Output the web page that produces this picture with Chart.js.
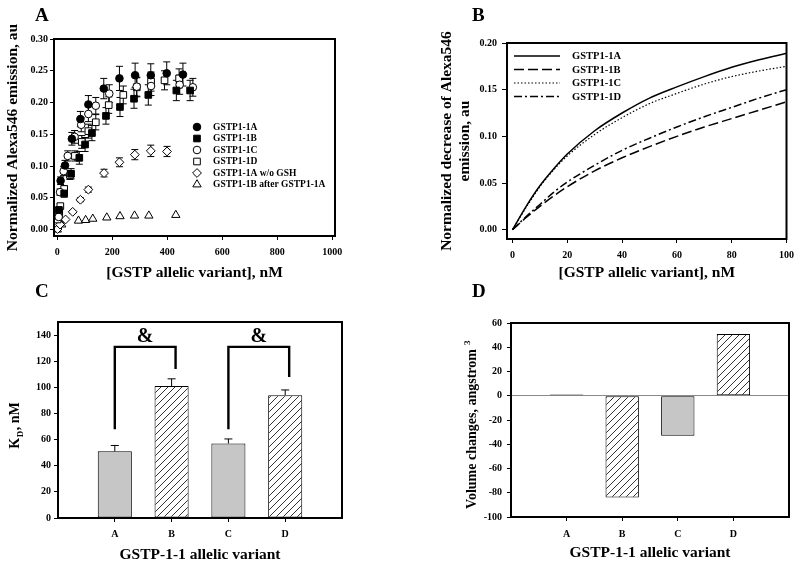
<!DOCTYPE html>
<html>
<head>
<meta charset="utf-8">
<script src="https://cdn.jsdelivr.net/npm/chart.js@4.4.0/dist/chart.umd.min.js"></script>
<style>
  html, body { margin: 0; padding: 0; background: #fff; }
  #wrap { position: relative; width: 800px; height: 565px; overflow: hidden; }
  canvas { position: absolute; }
</style>
</head>
<body>
<div id="wrap">
  <canvas id="chartA" width="400" height="282" style="left:0;top:0"></canvas>
  <canvas id="chartB" width="400" height="282" style="left:400px;top:0"></canvas>
  <canvas id="chartC" width="400" height="283" style="left:0;top:282px"></canvas>
  <canvas id="chartD" width="400" height="283" style="left:400px;top:282px"></canvas>
</div>
<script>
// ---- Panel A: titration points (nM, au, error) ----
const a1A_x = [12, 28, 53, 84, 113, 169, 226, 283, 340, 398, 457];
const a1A_y = [0.077, 0.101, 0.143, 0.174, 0.197, 0.222, 0.238, 0.243, 0.243, 0.246, 0.244];
const a1A_e = [0.006, 0.008, 0.010, 0.012, 0.014, 0.016, 0.019, 0.019, 0.018, 0.018, 0.018];

const a1B_x = [6, 25, 50, 80, 101, 126, 177, 228, 279, 331, 433, 483];
const a1B_y = [0.031, 0.057, 0.088, 0.113, 0.134, 0.152, 0.179, 0.193, 0.206, 0.212, 0.219, 0.219];
const a1B_e = [0.004, 0.006, 0.008, 0.010, 0.011, 0.012, 0.013, 0.015, 0.015, 0.016, 0.016, 0.016];

const a1C_x = [5, 10, 23, 38, 63, 87, 113, 140, 189, 289, 341, 445, 493];
const a1C_y = [0.020, 0.059, 0.092, 0.116, 0.146, 0.165, 0.182, 0.195, 0.214, 0.225, 0.226, 0.228, 0.224];
const a1C_e = [0.003, 0.005, 0.007, 0.008, 0.010, 0.011, 0.012, 0.013, 0.014, 0.015, 0.015, 0.015, 0.014];

const a1D_x = [1, 7, 11, 25, 46, 64, 89, 113, 140, 187, 240, 289, 341, 390, 443];
const a1D_y = [0.016, 0.026, 0.037, 0.064, 0.086, 0.116, 0.138, 0.155, 0.169, 0.196, 0.212, 0.224, 0.233, 0.235, 0.238];
const a1D_e = [0.002, 0.003, 0.004, 0.005, 0.007, 0.008, 0.010, 0.011, 0.012, 0.013, 0.014, 0.015, 0.015, 0.015, 0.015];

const aNoGSH_x = [1, 10, 30, 56, 84, 113, 170, 226, 282, 340, 399];
const aNoGSH_y = [0.001, 0.008, 0.016, 0.028, 0.047, 0.063, 0.089, 0.106, 0.118, 0.124, 0.123];
const aNoGSH_e = [0, 0, 0, 0.002, 0.003, 0.004, 0.006, 0.007, 0.008, 0.009, 0.008];

const aAfter_x = [0, 16, 77, 103, 129, 180, 228, 281, 333, 431];
const aAfter_y = [0.000, 0.008, 0.014, 0.015, 0.017, 0.019, 0.021, 0.022, 0.022, 0.023];

const ticksAx = [0, 200, 400, 600, 800, 1000];
const ticksAy = [0, 0.05, 0.10, 0.15, 0.20, 0.25, 0.30];

// ---- Panel B: fitted binding curves ----
const bX   = [0, 5, 10, 15, 20, 30, 40, 50, 60, 70, 80, 90, 100];
const b1A  = [0, 0.025, 0.047, 0.065, 0.081, 0.106, 0.125, 0.141, 0.153, 0.164, 0.174, 0.182, 0.189];
const b1B  = [0, 0.013, 0.025, 0.036, 0.046, 0.063, 0.077, 0.089, 0.100, 0.110, 0.119, 0.128, 0.137];
const b1C  = [0, 0.024, 0.046, 0.064, 0.079, 0.102, 0.120, 0.135, 0.146, 0.156, 0.164, 0.170, 0.175];
const b1D  = [0, 0.014, 0.027, 0.040, 0.051, 0.069, 0.085, 0.098, 0.110, 0.121, 0.131, 0.141, 0.150];
const ticksBx = [0, 20, 40, 60, 80, 100];
const ticksBy = [0, 0.05, 0.10, 0.15, 0.20];

// ---- Panel C: KD per variant ----
const variants = ['A', 'B', 'C', 'D'];
const kd = [51, 101, 57, 94];
const kdErr = [4.5, 5.5, 3.5, 4];
const ticksCy = [0, 20, 40, 60, 80, 100, 120, 140];
const bracketPairs = [['A', 'B'], ['C', 'D']];
const bracketLegs = [[68, 114], [68, 108]];
const bracketTop = 131;
const bracketMark = '&';

// ---- Panel D: volume changes ----
const volume = [1, -84, -33, 51];
const ticksDy = [-100, -80, -60, -40, -20, 0, 20, 40, 60];

const serif = '"Liberation Serif", "Times New Roman", serif';
Chart.defaults.font.family = serif;
Chart.defaults.font.weight = 'bold';
Chart.defaults.font.size = 10;
Chart.defaults.color = '#000';
Chart.defaults.animation = false;

const GREY = '#c6c6c6';
const TITLE_FONT = { size: 15.5 };

function hatchPattern() {
    const c = document.createElement('canvas');
    c.width = 7; c.height = 7;
    const g = c.getContext('2d');
    g.fillStyle = '#fff';
    g.fillRect(0, 0, 7, 7);
    g.strokeStyle = '#000';
    g.lineWidth = 0.8;
    g.beginPath();
    g.moveTo(0, 7); g.lineTo(7, 0);
    g.moveTo(-1, 1); g.lineTo(1, -1);
    g.moveTo(6, 8); g.lineTo(8, 6);
    g.stroke();
    return g.createPattern(c, 'repeat');
}
const HATCH = hatchPattern();

function fixedTicks(values) {
    return scale => { scale.ticks = values.map(v => ({ value: v })); };
}
function pts(xs, ys) {
    return xs.map((x, i) => ({ x: x, y: ys[i] }));
}
function tickGrid(len) {
    return { drawOnChartArea: false, drawTicks: true, tickLength: len, tickColor: '#000', tickWidth: 1 };
}

// full box round the plot area + panel letter
const frame = {
    id: 'frame',
    afterDraw(chart, args, opts) {
        const { ctx, chartArea: a } = chart;
        ctx.save();
        ctx.strokeStyle = '#000';
        ctx.lineWidth = 2;
        ctx.strokeRect(a.left, a.top, a.right - a.left, a.bottom - a.top);
        ctx.font = 'bold 19px ' + serif;
        ctx.fillStyle = '#000';
        ctx.textBaseline = 'alphabetic';
        ctx.fillText(opts.letter, opts.x, opts.y);
        ctx.restore();
    }
};

// vertical error bars for scatter points
const errorBars = {
    id: 'errorBars',
    beforeDatasetsDraw(chart) {
        const { ctx, scales: { x, y } } = chart;
        ctx.save();
        ctx.strokeStyle = '#000';
        ctx.lineWidth = 1;
        chart.data.datasets.forEach(ds => {
            if (!ds.errors) return;
            ds.data.forEach((p, i) => {
                const e = ds.errors[i];
                if (!e) return;
                const px = x.getPixelForValue(p.x);
                const top = y.getPixelForValue(p.y + e);
                const bot = y.getPixelForValue(p.y - e);
                ctx.beginPath();
                ctx.moveTo(px, top); ctx.lineTo(px, bot);
                ctx.moveTo(px - 3.5, top); ctx.lineTo(px + 3.5, top);
                ctx.moveTo(px - 3.5, bot); ctx.lineTo(px + 3.5, bot);
                ctx.stroke();
            });
        });
        ctx.restore();
    }
};

const legendA = {
    id: 'legendA',
    afterDatasetsDraw(chart, args, opts) {
        const { ctx } = chart;
        ctx.save();
        ctx.font = 'bold 9.5px ' + serif;
        ctx.textBaseline = 'middle';
        chart.data.datasets.forEach((ds, i) => {
            const yy = opts.y + i * opts.gap;
            ctx.fillStyle = ds.backgroundColor;
            ctx.strokeStyle = ds.borderColor;
            ctx.lineWidth = ds.borderWidth;
            Chart.helpers.drawPoint(ctx, { pointStyle: ds.pointStyle, radius: ds.pointRadius, borderWidth: ds.borderWidth, rotation: 0 }, opts.x, yy);
            ctx.fillStyle = '#000';
            ctx.fillText(ds.label, opts.x + 16, yy + 0.5);
        });
        ctx.restore();
    }
};

const legendB = {
    id: 'legendB',
    afterDatasetsDraw(chart, args, opts) {
        const { ctx } = chart;
        ctx.save();
        ctx.font = 'bold 10.5px ' + serif;
        ctx.textBaseline = 'middle';
        chart.data.datasets.forEach((ds, i) => {
            const yy = opts.y + i * opts.gap;
            ctx.strokeStyle = '#000';
            ctx.lineWidth = ds.borderWidth;
            ctx.setLineDash(ds.borderDash || []);
            ctx.beginPath();
            ctx.moveTo(opts.x, yy); ctx.lineTo(opts.x + 46, yy);
            ctx.stroke();
            ctx.setLineDash([]);
            ctx.fillStyle = '#000';
            ctx.fillText(ds.label, opts.x + 58, yy + 0.5);
        });
        ctx.restore();
    }
};

// bar error bars (upper half) for panel C
const barErrors = {
    id: 'barErrors',
    afterDatasetsDraw(chart) {
        const { ctx, scales: { x, y } } = chart;
        ctx.save();
        ctx.strokeStyle = '#000';
        ctx.lineWidth = 1;
        variants.forEach((v, i) => {
            const px = x.getPixelForValue(i + 1);
            const top = y.getPixelForValue(kd[i] + kdErr[i]);
            const base = y.getPixelForValue(kd[i]);
            ctx.beginPath();
            ctx.moveTo(px, base); ctx.lineTo(px, top);
            ctx.moveTo(px - 4, top); ctx.lineTo(px + 4, top);
            ctx.stroke();
        });
        ctx.restore();
    }
};

const brackets = {
    id: 'brackets',
    afterDatasetsDraw(chart) {
        const { ctx, scales: { x, y } } = chart;
        ctx.save();
        ctx.strokeStyle = '#000';
        ctx.lineWidth = 2.4;
        ctx.lineJoin = 'miter';
        ctx.fillStyle = '#000';
        ctx.font = 'bold 20px ' + serif;
        ctx.textAlign = 'center';
        ctx.textBaseline = 'middle';
        bracketPairs.forEach((pair, i) => {
            const x1 = x.getPixelForValue(variants.indexOf(pair[0]) + 1);
            const x2 = x.getPixelForValue(variants.indexOf(pair[1]) + 1.07);
            const yt = y.getPixelForValue(bracketTop);
            ctx.beginPath();
            ctx.moveTo(x1, y.getPixelForValue(bracketLegs[i][0]));
            ctx.lineTo(x1, yt);
            ctx.lineTo(x2, yt);
            ctx.lineTo(x2, y.getPixelForValue(bracketLegs[i][1]));
            ctx.stroke();
            ctx.fillText(bracketMark, (x1 + x2) / 2, y.getPixelForValue(bracketTop + 8));
        });
        ctx.restore();
    }
};

// rotated y title with sub/superscript part
const richYTitle = {
    id: 'richYTitle',
    afterDraw(chart, args, opts) {
        const { ctx, chartArea: a } = chart;
        ctx.save();
        ctx.translate(opts.x, (a.top + a.bottom) / 2 + (opts.dy || 0));
        ctx.rotate(-Math.PI / 2);
        ctx.fillStyle = '#000';
        ctx.textBaseline = 'alphabetic';
        const big = 'bold 14px ' + serif, small = 'bold 9px ' + serif;
        ctx.font = big;
        const w1 = ctx.measureText(opts.main).width;
        const w3 = ctx.measureText(opts.tail).width;
        ctx.font = small;
        const w2 = ctx.measureText(opts.script).width;
        let sx = -(w1 + w2 + w3) / 2;
        const base = 5;
        ctx.font = big;
        ctx.fillText(opts.main, sx, base);
        ctx.font = small;
        ctx.fillText(opts.script, sx + w1 + 0.5, base + opts.shift);
        ctx.font = big;
        ctx.fillText(opts.tail, sx + w1 + w2 + 1, base);
        ctx.restore();
    }
};

// ---- Chart A ----
new Chart(document.getElementById('chartA'), {
    type: 'scatter',
    data: {
        datasets: [
            { label: 'GSTP1-1A', data: pts(a1A_x, a1A_y), errors: a1A_e, pointStyle: 'circle', pointRadius: 3.8, backgroundColor: '#000', borderColor: '#000', borderWidth: 1 },
            { label: 'GSTP1-1B', data: pts(a1B_x, a1B_y), errors: a1B_e, pointStyle: 'rect', pointRadius: 4.7, backgroundColor: '#000', borderColor: '#000', borderWidth: 1 },
            { label: 'GSTP1-1C', data: pts(a1C_x, a1C_y), errors: a1C_e, pointStyle: 'circle', pointRadius: 3.8, backgroundColor: '#fff', borderColor: '#000', borderWidth: 1 },
            { label: 'GSTP1-1D', data: pts(a1D_x, a1D_y), errors: a1D_e, pointStyle: 'rect', pointRadius: 4.7, backgroundColor: '#fff', borderColor: '#000', borderWidth: 1 },
            { label: 'GSTP1-1A w/o GSH', data: pts(aNoGSH_x, aNoGSH_y), errors: aNoGSH_e, pointStyle: 'rectRot', pointRadius: 4.4, backgroundColor: '#fff', borderColor: '#000', borderWidth: 1 },
            { label: 'GSTP1-1B after GSTP1-1A', data: pts(aAfter_x, aAfter_y), pointStyle: 'triangle', pointRadius: 4.8, backgroundColor: '#fff', borderColor: '#000', borderWidth: 1 }
        ]
    },
    options: {
        responsive: false,
        layout: { padding: { left: 0, top: 39, right: 65, bottom: 0 } },
        plugins: {
            legend: { display: false },
            tooltip: { enabled: false },
            frame: { letter: 'A', x: 35, y: 21 },
            legendA: { x: 197, y: 127, gap: 11.5 }
        },
        scales: {
            x: {
                type: 'linear', min: -12, max: 1010,
                afterBuildTicks: fixedTicks(ticksAx),
                afterFit: s => { s.height = 46; },
                ticks: { padding: 6, maxRotation: 0, autoSkip: false, callback: v => String(v) },
                grid: tickGrid(4),
                border: { display: false },
                title: { display: true, text: '[GSTP allelic variant], nM', font: TITLE_FONT, padding: { top: 0, bottom: 0 } }
            },
            y: {
                min: -0.01, max: 0.30,
                afterBuildTicks: fixedTicks(ticksAy),
                afterFit: s => { s.width = 54; },
                ticks: { padding: 2, callback: v => v.toFixed(2) },
                grid: tickGrid(4),
                border: { display: false },
                title: { display: true, text: 'Normalized Alexa546 emission, au', font: TITLE_FONT, padding: { top: 4, bottom: 0 } }
            }
        }
    },
    plugins: [frame, errorBars, legendA]
});

// ---- Chart B ----
new Chart(document.getElementById('chartB'), {
    type: 'line',
    data: {
        datasets: [
            { label: 'GSTP1-1A', data: pts(bX, b1A), borderColor: '#000', borderWidth: 1.5, borderDash: [] },
            { label: 'GSTP1-1B', data: pts(bX, b1B), borderColor: '#000', borderWidth: 1.5, borderDash: [10, 4] },
            { label: 'GSTP1-1C', data: pts(bX, b1C), borderColor: '#000', borderWidth: 1.2, borderDash: [1.5, 2] },
            { label: 'GSTP1-1D', data: pts(bX, b1D), borderColor: '#000', borderWidth: 1.5, borderDash: [8, 3, 2, 3] }
        ]
    },
    options: {
        responsive: false,
        layout: { padding: { left: 0, top: 43, right: 13, bottom: 0 } },
        elements: { point: { radius: 0 }, line: { cubicInterpolationMode: 'monotone', fill: false } },
        plugins: {
            legend: { display: false },
            tooltip: { enabled: false },
            frame: { letter: 'B', x: 72, y: 21 },
            legendB: { x: 114, y: 56, gap: 13.5 }
        },
        scales: {
            x: {
                type: 'linear', min: -2, max: 100,
                afterBuildTicks: fixedTicks(ticksBx),
                afterFit: s => { s.height = 43; },
                ticks: { padding: 6, maxRotation: 0, autoSkip: false },
                grid: tickGrid(4),
                border: { display: false },
                title: { display: true, text: '[GSTP allelic variant], nM', font: TITLE_FONT, padding: { top: 0, bottom: 0 } }
            },
            y: {
                min: -0.01, max: 0.20,
                afterBuildTicks: fixedTicks(ticksBy),
                afterFit: s => { s.width = 107; },
                ticks: { padding: 5, callback: v => v.toFixed(2) },
                grid: tickGrid(5),
                border: { display: false },
                title: { display: true, text: ['Normalized decrease of Alexa546', 'emission, au'], font: { size: 15.5, lineHeight: 1.17 }, padding: { top: 38, bottom: 0 } }
            }
        }
    },
    plugins: [frame, legendB]
});

// ---- Chart C ----
const catLabels = [''].concat(variants, ['']);
const catTickColor = c => (c.tick && c.tick.label === '') ? 'rgba(0,0,0,0)' : '#000';

new Chart(document.getElementById('chartC'), {
    type: 'bar',
    data: {
        labels: catLabels,
        datasets: [{
            data: [null].concat(kd, [null]),
            backgroundColor: [null, GREY, HATCH, GREY, HATCH, null],
            borderColor: '#000',
            borderWidth: 1,
            borderSkipped: false,
            barPercentage: 0.6,
            categoryPercentage: 1
        }]
    },
    options: {
        responsive: false,
        layout: { padding: { left: 0, top: 40, right: 58, bottom: 0 } },
        plugins: {
            legend: { display: false },
            tooltip: { enabled: false },
            frame: { letter: 'C', x: 35, y: 15 },
            richYTitle: { x: 14, dy: 6, main: 'K', script: 'D', shift: 4, tail: ', nM' }
        },
        scales: {
            x: {
                offset: false,
                afterFit: s => { s.height = 47; },
                ticks: { padding: 6, maxRotation: 0, autoSkip: false },
                grid: { offset: false, drawOnChartArea: false, drawTicks: true, tickLength: 4, tickColor: catTickColor },
                border: { display: false },
                title: { display: true, text: 'GSTP-1-1 allelic variant', font: TITLE_FONT, padding: { top: 0, bottom: 1 } }
            },
            y: {
                min: 0, max: 150,
                afterBuildTicks: fixedTicks(ticksCy),
                afterFit: s => { s.width = 58; },
                ticks: { padding: 3 },
                grid: tickGrid(4),
                border: { display: false }
            }
        }
    },
    plugins: [frame, barErrors, brackets, richYTitle]
});

// ---- Chart D ----
new Chart(document.getElementById('chartD'), {
    type: 'bar',
    data: {
        labels: catLabels,
        datasets: [{
            data: [null].concat(volume, [null]),
            backgroundColor: [null, GREY, HATCH, GREY, HATCH, null],
            borderColor: '#000',
            borderWidth: 1,
            borderSkipped: false,
            barPercentage: 0.6,
            categoryPercentage: 1
        }]
    },
    options: {
        responsive: false,
        layout: { padding: { left: 0, top: 41, right: 11, bottom: 0 } },
        plugins: {
            legend: { display: false },
            tooltip: { enabled: false },
            frame: { letter: 'D', x: 72, y: 15 },
            richYTitle: { x: 71, dy: 5, main: 'Volume changes, angstrom ', script: '3', shift: -6, tail: '' }
        },
        scales: {
            x: {
                offset: false,
                afterFit: s => { s.height = 48; },
                ticks: { padding: 7, maxRotation: 0, autoSkip: false },
                grid: { offset: false, drawOnChartArea: false, drawTicks: true, tickLength: 4, tickColor: catTickColor },
                border: { display: false },
                title: { display: true, text: 'GSTP-1-1 allelic variant', font: TITLE_FONT, padding: { top: 0, bottom: 3 } }
            },
            y: {
                min: -100, max: 60,
                afterBuildTicks: fixedTicks(ticksDy),
                afterFit: s => { s.width = 111; },
                ticks: { padding: 5 },
                grid: {
                    drawOnChartArea: true, drawTicks: true, tickLength: 4, tickColor: '#000',
                    color: c => (c.tick && c.tick.value === 0) ? '#8a8a8a' : 'rgba(0,0,0,0)'
                },
                border: { display: false }
            }
        }
    },
    plugins: [frame, richYTitle]
});
</script>
</body>
</html>
